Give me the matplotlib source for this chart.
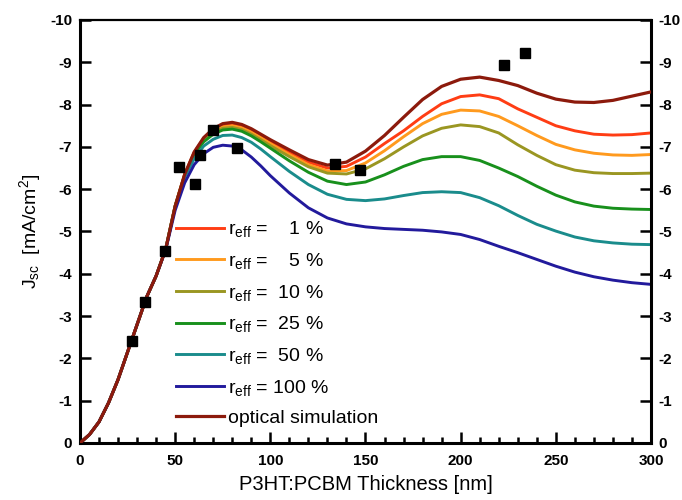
import matplotlib
matplotlib.use("Agg")
import matplotlib.pyplot as plt
from matplotlib.ticker import MultipleLocator

plt.rcParams["font.family"] = ["Liberation Sans", "DejaVu Sans"]
plt.rcParams["mathtext.default"] = "regular"
plt.rcParams["axes.unicode_minus"] = False

# Layer thickness grid (nm)
thickness = [0, 5, 10, 15, 20, 25, 30, 35, 40, 45, 50, 55, 60, 65, 70, 75, 80, 85, 90, 95, 100,
             110, 120, 130, 140, 150, 160, 170, 180, 190, 200, 210, 220, 230, 240, 250,
             260, 270, 280, 290, 300]

# Short-circuit current density (mA/cm^2) for each effective recombination rate
jsc_r1 = [0, -0.2, -0.5, -0.95, -1.5, -2.15, -2.8, -3.45, -3.95, -4.58, -5.6, -6.35, -6.87, -7.2,
          -7.4, -7.51, -7.54, -7.49, -7.39, -7.26, -7.13,
          -6.88, -6.64, -6.5, -6.54, -6.76, -7.08, -7.38, -7.72, -8.02, -8.19, -8.23, -8.14,
          -7.9, -7.7, -7.5, -7.38, -7.3, -7.28, -7.29, -7.33]
jsc_r5 = [0, -0.2, -0.5, -0.95, -1.5, -2.15, -2.8, -3.45, -3.95, -4.58, -5.6, -6.35, -6.86, -7.18,
          -7.37, -7.47, -7.5, -7.45, -7.35, -7.22, -7.08,
          -6.82, -6.58, -6.43, -6.44, -6.62, -6.91, -7.24, -7.55, -7.77, -7.87, -7.85, -7.72,
          -7.5, -7.27, -7.06, -6.93, -6.85, -6.81, -6.8, -6.82]
jsc_r10 = [0, -0.2, -0.5, -0.95, -1.5, -2.15, -2.8, -3.45, -3.95, -4.58, -5.6, -6.34, -6.84, -7.16,
           -7.34, -7.44, -7.46, -7.41, -7.3, -7.17, -7.03,
           -6.77, -6.53, -6.38, -6.36, -6.48, -6.72, -7.0, -7.26, -7.44, -7.52, -7.48, -7.33,
           -7.05, -6.8, -6.58, -6.45, -6.39, -6.37, -6.37, -6.38]
jsc_r25 = [0, -0.2, -0.5, -0.95, -1.5, -2.15, -2.8, -3.45, -3.95, -4.58, -5.6, -6.33, -6.82, -7.12,
           -7.3, -7.4, -7.42, -7.37, -7.26, -7.12, -6.97,
           -6.67, -6.4, -6.19, -6.11, -6.17, -6.34, -6.54, -6.7, -6.77, -6.77, -6.68, -6.5,
           -6.3, -6.07, -5.86, -5.7, -5.6, -5.55, -5.53, -5.52]
jsc_r50 = [0, -0.2, -0.5, -0.95, -1.5, -2.15, -2.8, -3.45, -3.95, -4.58, -5.58, -6.28, -6.72, -7.02,
           -7.18, -7.27, -7.28, -7.22, -7.11, -6.95, -6.77,
           -6.42, -6.11, -5.88, -5.76, -5.73, -5.77, -5.85, -5.92, -5.94, -5.92, -5.8, -5.61,
           -5.38, -5.17, -5.01, -4.87, -4.78, -4.73, -4.7, -4.69]
jsc_r100 = [0, -0.2, -0.5, -0.95, -1.5, -2.15, -2.8, -3.45, -3.95, -4.56, -5.5, -6.15, -6.58, -6.84,
            -6.99, -7.04, -7.02, -6.93, -6.76, -6.55, -6.32,
            -5.91, -5.56, -5.32, -5.18, -5.11, -5.07, -5.05, -5.03, -4.99, -4.93, -4.81, -4.65,
            -4.5, -4.34, -4.18, -4.04, -3.93, -3.85, -3.79, -3.75]
jsc_optical = [0, -0.2, -0.5, -0.95, -1.5, -2.15, -2.8, -3.45, -3.95, -4.58, -5.6, -6.35, -6.88, -7.22,
               -7.43, -7.55, -7.58, -7.53, -7.43, -7.3, -7.17,
               -6.93, -6.7, -6.57, -6.64, -6.9, -7.27, -7.7, -8.12, -8.43, -8.6, -8.65, -8.57,
               -8.45, -8.27, -8.13, -8.06, -8.05, -8.1, -8.2, -8.3]

# Measured devices
meas_thickness = [27.1, 34.2, 44.8, 52.1, 60.3, 63.0, 70.0, 82.3, 134.0, 147.0, 222.7, 234.0]
meas_jsc = [-2.41, -3.34, -4.54, -6.53, -6.12, -6.81, -7.41, -6.97, -6.59, -6.45, -8.94, -9.21]

series = [
    (jsc_r1, "#ff3d14", r"r$_{eff}$ =    1 %"),
    (jsc_r5, "#ff9a1e", r"r$_{eff}$ =    5 %"),
    (jsc_r10, "#9a9622", r"r$_{eff}$ =  10 %"),
    (jsc_r25, "#18901c", r"r$_{eff}$ =  25 %"),
    (jsc_r50, "#1a8c8c", r"r$_{eff}$ =  50 %"),
    (jsc_r100, "#221a9c", r"r$_{eff}$ = 100 %"),
    (jsc_optical, "#8c1a0c", "optical simulation"),
]

fig = plt.figure(figsize=(6.82, 5.0), dpi=100)
ax = fig.add_axes([0.1173, 0.114, 0.8372, 0.846])

handles = []
for values, color, label in series:
    (h,) = ax.plot(thickness, values, color=color, lw=2.1, label=label, zorder=2)
    handles.append(h)
# optical curve drawn on top of the others
handles[-1].set_zorder(3)
handles[-1].set_linewidth(2.3)

ax.plot(meas_thickness, meas_jsc, "s", color="black", ms=7.5, zorder=4)

ax.set_xlim(0, 300)
ax.set_ylim(0, -10)
ax.xaxis.set_major_locator(MultipleLocator(50))
ax.xaxis.set_minor_locator(MultipleLocator(10))
ax.yaxis.set_major_locator(MultipleLocator(1))

ax.tick_params(axis="both", which="both", direction="in", top=False,
               right=True, labelright=True, width=1.8)
ax.tick_params(axis="both", which="major", length=8, labelsize=11)
ax.tick_params(axis="y", which="major", pad=5.5)
ax.tick_params(axis="x", which="minor", length=4)
ax.tick_params(axis="x", which="major", pad=8)

for tick in ax.xaxis.get_major_ticks() + ax.yaxis.get_major_ticks():
    tick.label1.set_fontweight("bold")
    tick.label2.set_fontweight("bold")

for side in ("left", "right", "bottom"):
    ax.spines[side].set_linewidth(2.2)
ax.spines["top"].set_linewidth(1.6)

ax.set_xlabel("P3HT:PCBM Thickness [nm]", fontsize=14.5, labelpad=5)
ax.set_ylabel(r"J$_{sc}$  [mA/cm$^{2}$]", fontsize=14, labelpad=5)

ax.legend(handles=handles, loc="upper left", bbox_to_anchor=(0.155, 0.547),
          frameon=False, fontsize=14, handlelength=2.45, handletextpad=0.2,
          labelspacing=0.6, borderaxespad=0)

fig.savefig("out.png", dpi=100)
